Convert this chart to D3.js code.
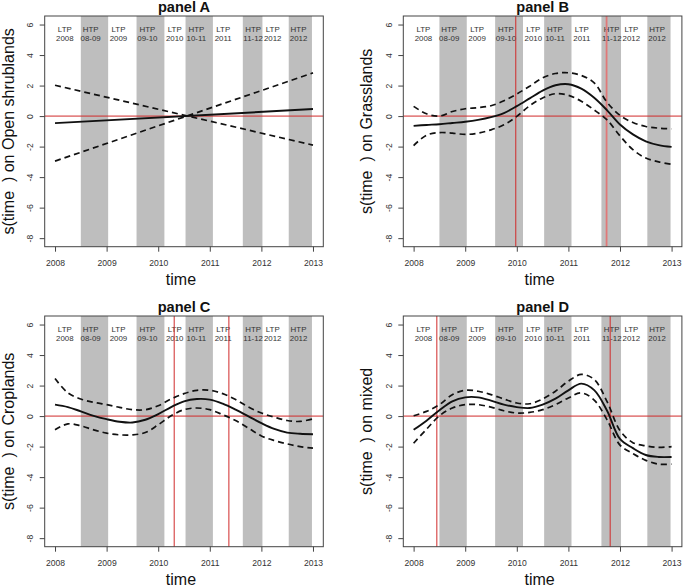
<!DOCTYPE html>
<html><head><meta charset="utf-8">
<script src="https://cdn.jsdelivr.net/npm/d3@7"></script>
<style>
body{margin:0;background:#fff;}
svg{display:block;font-family:"Liberation Sans",Arial,sans-serif;}
</style></head><body>
<svg id="chart" width="685" height="588"></svg>
<script>
// ---------- data ----------
const years = [2008, 2009, 2010, 2011, 2012, 2013];
const yTicks = [-8, -6, -4, -2, 0, 2, 4, 6];
const htpStart = [2008.5, 2009.58, 2010.53, 2011.64, 2012.53];
const htpEnd   = [2009.03, 2010.12, 2011.06, 2012.02, 2012.98];
const periodName = ["LTP","HTP","LTP","HTP","LTP","HTP","LTP","HTP","LTP","HTP"];
const periodYear = ["2008","08-09","2009","09-10","2010","10-11","2011","11-12","2012","2012"];
const periodCenter = [2008.19, 2008.69, 2009.23, 2009.79, 2010.32, 2010.74, 2011.26, 2011.84, 2012.22, 2012.72];

const timeA = [2008, 2013];
const fitA  = [-0.46, 0.46];
const upA   = [2.02, -1.9];
const loA   = [-2.95, 2.83];

const timeGrid = [2008, 2008.25, 2008.5, 2008.75, 2009, 2009.25, 2009.5, 2009.75, 2010, 2010.25, 2010.5,
                  2010.75, 2011, 2011.25, 2011.5, 2011.75, 2012, 2012.25, 2012.5, 2012.75, 2013];
const fitB = [-0.64, -0.58, -0.53, -0.45, -0.37, -0.25, -0.07, 0.2, 0.65, 1.16, 1.67, 2.02, 2.09, 1.8, 1.2, 0.38, -0.55, -1.2, -1.65, -1.9, -2.02];
const upB  = [0.64, 0.15, 0.0, 0.3, 0.48, 0.55, 0.68, 1.0, 1.45, 1.96, 2.5, 2.79, 2.84, 2.66, 2.18, 0.9, 0.05, -0.42, -0.68, -0.79, -0.84];
const loB  = [-1.93, -1.25, -1.08, -1.12, -1.2, -1.12, -0.9, -0.57, -0.02, 0.68, 1.19, 1.47, 1.36, 0.97, 0.4, -0.25, -1.3, -2.2, -2.75, -3.0, -3.16];

const fitC = [0.75, 0.59, 0.31, 0.02, -0.2, -0.37, -0.42, -0.24, 0.13, 0.59, 0.97, 1.12, 1.08, 0.81, 0.42, -0.02, -0.46, -0.84, -1.08, -1.16, -1.19];
const upC  = [2.46, 1.52, 1.12, 0.9, 0.75, 0.57, 0.42, 0.42, 0.68, 1.12, 1.47, 1.69, 1.69, 1.47, 1.08, 0.59, 0.2, -0.07, -0.29, -0.35, -0.18];
const loC  = [-0.9, -0.51, -0.64, -0.9, -1.12, -1.23, -1.23, -1.08, -0.57, 0.02, 0.42, 0.53, 0.42, 0.09, -0.29, -0.79, -1.3, -1.6, -1.82, -2.0, -2.1];

const fitD = [-0.9, -0.3, 0.38, 0.97, 1.23, 1.23, 1.01, 0.75, 0.59, 0.53, 0.75, 1.14, 1.69, 2.13, 1.7, 0.35, -1.5, -2.1, -2.55, -2.68, -2.68];
const upD  = [0.02, 0.31, 0.75, 1.4, 1.69, 1.63, 1.41, 1.12, 0.86, 0.81, 1.12, 1.63, 2.29, 2.73, 2.4, 0.95, -0.95, -1.74, -1.95, -2.05, -2.0];
const loD  = [-1.78, -0.86, 0.02, 0.53, 0.75, 0.75, 0.59, 0.35, 0.2, 0.24, 0.42, 0.75, 1.19, 1.52, 1.05, -0.25, -1.9, -2.45, -2.9, -3.15, -3.15];

const vlinesA = [];
const vlinesB = [2009.98, 2011.74];
const vlinesC = [2010.31, 2011.37];
const vlinesD = [2008.45, 2011.81];

const panels = [
  {title:"panel A", ylab:"s(time  ) on Open shrublands", t:timeA, fit:fitA, up:upA, lo:loA, vl:vlinesA, x0:44.7, y0:16},
  {title:"panel B", ylab:"s(time  ) on Grasslands", t:timeGrid, fit:fitB, up:upB, lo:loB, vl:vlinesB, x0:403.3, y0:16},
  {title:"panel C", ylab:"s(time  ) on Croplands", t:timeGrid, fit:fitC, up:upC, lo:loC, vl:vlinesC, x0:44.7, y0:316},
  {title:"panel D", ylab:"s(time  ) on mixed", t:timeGrid, fit:fitD, up:upD, lo:loD, vl:vlinesD, x0:403.3, y0:316}
];

// ---------- drawing ----------
const svg = d3.select("#chart");
const PW = 278.6, PH = 230.7;
const red = "#d02a2a";
const frame = "#444";

panels.forEach((p, pi) => {
  const g = svg.append("g").attr("transform", `translate(${p.x0},${p.y0})`);
  const x = d3.scaleLinear().domain([2007.8, 2013.2]).range([0, PW]);
  const y = d3.scaleLinear().domain([-8.56, 6.56]).range([PH, 0]);

  // bands
  g.selectAll("rect.band").data(htpStart).enter().append("rect")
    .attr("class","band")
    .attr("x", (d) => x(d))
    .attr("width", (d,i) => x(htpEnd[i]) - x(d))
    .attr("y", 0).attr("height", PH)
    .attr("fill", "#bebebe");

  // period labels
  const lab = g.append("g").attr("font-size", 7.9).attr("fill", "#333").attr("text-anchor","middle");
  periodName.forEach((n, i) => {
    lab.append("text").attr("x", x(periodCenter[i])).attr("y", 15.9).text(n);
    lab.append("text").attr("x", x(periodCenter[i])).attr("y", 24.6).text(periodYear[i]);
  });

  // red reference lines
  g.append("line").attr("x1",0).attr("x2",PW).attr("y1",y(0)).attr("y2",y(0))
    .attr("stroke", red).attr("stroke-width", 1);
  p.vl.forEach((v, i) => {
    const light = (pi === 1 && i === 1);
    g.append("line").attr("x1", x(v)).attr("x2", x(v)).attr("y1", 0).attr("y2", PH)
      .attr("stroke", light ? "#e07878" : red).attr("stroke-width", light ? 1.8 : 1);
  });

  // curves
  const line = (vals) => d3.line()
    .x((d, i) => x(p.t[i])).y((d) => y(d))
    .curve(p.t.length > 2 ? d3.curveCatmullRom.alpha(0.5) : d3.curveLinear)(vals);
  g.append("path").attr("d", line(p.up)).attr("fill","none").attr("stroke","#111")
    .attr("stroke-width",1.7).attr("stroke-dasharray","6,4");
  g.append("path").attr("d", line(p.lo)).attr("fill","none").attr("stroke","#111")
    .attr("stroke-width",1.7).attr("stroke-dasharray","6,4");
  g.append("path").attr("d", line(p.fit)).attr("fill","none").attr("stroke","#111")
    .attr("stroke-width",1.9);

  // frame
  g.append("rect").attr("x",0).attr("y",0).attr("width",PW).attr("height",PH)
    .attr("fill","none").attr("stroke",frame).attr("stroke-width",1);

  // x axis
  const xa = g.append("g").attr("transform", `translate(0,${PH})`)
    .call(d3.axisBottom(x).tickValues(years).tickFormat(d3.format("d")).tickSize(5).tickSizeOuter(0));
  xa.select(".domain").remove();
  xa.selectAll("line").attr("stroke", frame);
  xa.selectAll("text").attr("y", 19).attr("dy", 0).attr("font-size", 8.6).attr("fill","#333")
    .attr("font-family", null);

  // y axis
  const ya = g.append("g")
    .call(d3.axisLeft(y).tickValues(yTicks).tickFormat(d3.format("d")).tickSize(5).tickSizeOuter(0));
  ya.select(".domain").remove();
  ya.selectAll("line").attr("stroke", frame);
  ya.selectAll("text").attr("x", 0).attr("dy", 0).attr("text-anchor","middle")
    .attr("transform", "translate(-11.4,0) rotate(-90)")
    .attr("font-size", 8.6).attr("fill","#333").attr("font-family", null)
    .text(d => String(d).replace("\u2212","-"));
  svg.selectAll(".tick text").attr("font-family", null);

  // title
  g.append("text").attr("x", PW/2).attr("y", -4.5).attr("text-anchor","middle")
    .attr("font-size", 14.6).attr("font-weight","bold").attr("fill","#111").text(p.title);

  // x label
  g.append("text").attr("x", PW/2 - 3).attr("y", PH + 38.5).attr("text-anchor","middle")
    .attr("font-size", 16).attr("fill","#111").text("time");

  // y label
  g.append("text").attr("transform", `translate(-31,${PH/2}) rotate(-90)`)
    .attr("text-anchor","middle").attr("font-size", 16).attr("fill","#111")
    .style("white-space","pre").text(p.ylab);
});
</script>
</body></html>
